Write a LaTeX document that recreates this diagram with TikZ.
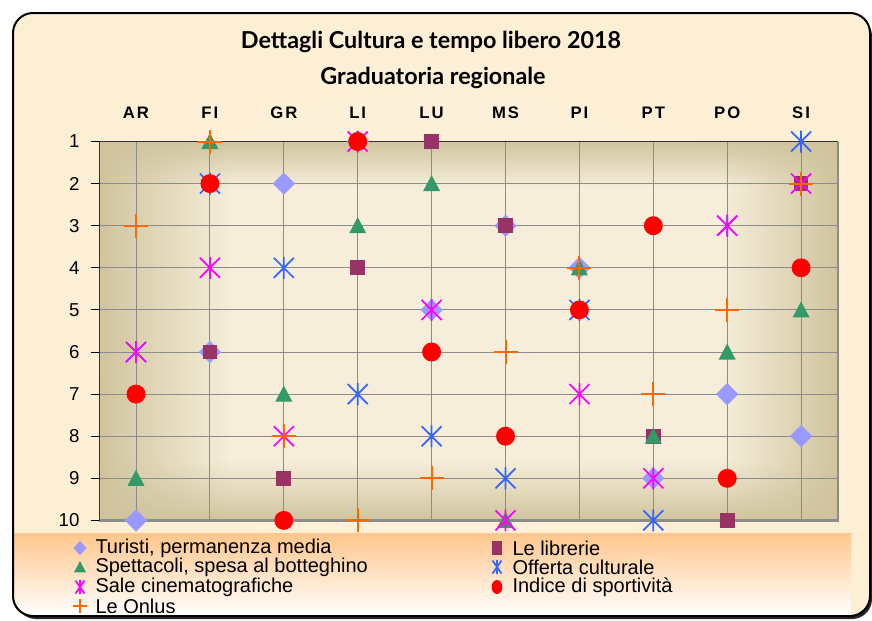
\documentclass[tikz,border=0pt]{standalone}
\usepackage{fontspec}
\setmainfont{Liberation Sans}
\newfontfamily\titlefont{Lato}
\usetikzlibrary{shapes.geometric,fadings}

\definecolor{turcol}{RGB}{153,153,255}
\definecolor{libcol}{RGB}{153,51,102}
\definecolor{spetcol}{RGB}{51,153,102}
\definecolor{offcol}{RGB}{51,102,255}
\definecolor{salecol}{RGB}{255,0,255}
\definecolor{sportcol}{RGB}{255,0,0}
\definecolor{onluscol}{RGB}{255,102,0}
\definecolor{bgcream}{RGB}{253,239,212}
\definecolor{bglight}{RGB}{251,242,225}
\definecolor{plottan}{RGB}{208,196,158}
\definecolor{plotlight}{RGB}{246,238,218}
\definecolor{legpeach}{RGB}{255,198,140}
\definecolor{gridgray}{RGB}{140,140,140}

% fadings for the plot background (visible part is 25bp..75bp)
\pgfdeclarehorizontalshading{sidemask}{100bp}{color(0bp)=(white); color(25bp)=(white); color(34bp)=(black); color(67bp)=(black); color(75bp)=(white); color(100bp)=(white)}
\pgfdeclarefading{sidefade}{\pgfuseshading{sidemask}}
\pgfdeclareverticalshading{endmask}{100bp}{color(0bp)=(white); color(25bp)=(white); color(33bp)=(black); color(69bp)=(black); color(75bp)=(white); color(100bp)=(white)}
\pgfdeclarefading{endfade}{\pgfuseshading{endmask}}

\tikzset{every picture/.style={line width=0.75pt}}
\tikzset{
	turmark/.style={diamond, fill=turcol, inner sep=0pt, minimum width=17pt, minimum height=17pt},
	libmark/.style={rectangle, fill=libcol, inner sep=0pt, minimum size=11pt},
	sportmark/.style={circle, fill=sportcol, inner sep=0pt, minimum size=14.2pt},
	spetmark/.pic={\fill[spetcol] (-8.5,-7.5) -- (8.5,-7.5) -- (0,8.5) -- cycle;},
	starmark/.pic={\draw[#1, line width=1.3pt] (-10,-10) -- (10,10) (-10,10) -- (10,-10) (0,-11) -- (0,11);},
	plusmark/.pic={\draw[onluscol, line width=1.5pt] (-12,0) -- (12,0) (0,-12) -- (0,12);},
	collab/.style={font=\bfseries\fontsize{12.5}{14}\selectfont\addfontfeature{LetterSpace=12}, inner sep=0pt},
	rowlab/.style={font=\fontsize{14}{16}\selectfont, inner sep=0pt, anchor=east},
	legtext/.style={font=\fontsize{15}{16}\selectfont, inner sep=0pt, anchor=west},
	titletext/.style={font=\titlefont\bfseries\fontsize{17.5}{20}\selectfont},
}

\begin{document}
\begin{tikzpicture}[x=0.75pt,y=0.75pt,yscale=-1,xscale=1]
	\useasboundingbox (0,0) rectangle (872,621);

	%Shape: Chart frame with shadow
	\fill[black!85, rounded corners=15pt] (16,16) rectangle (872,619);
	\shade[inner color=bglight, outer color=bgcream, rounded corners=15pt] (13,13) rectangle (870,616);
	\begin{scope}
		\clip[rounded corners=15pt] (13,13) rectangle (870,616);
		%Shape: Legend band
		\shade[top color=legpeach, bottom color=white] (13,533) rectangle (851,616);
	\end{scope}
	\draw[line width=1.5pt, rounded corners=15pt] (13,13) rectangle (870,616);

	% Text Node
	\node[titletext] (title) at (431,42) {Dettagli Cultura e tempo libero 2018};
	% Text Node
	\node[titletext] (subtitle) at (433,78) {Graduatoria regionale};

	%Shape: Plot area
	\fill[plotlight] (99,141.5) rectangle (838,520.5);
	\fill[plottan, path fading=sidefade, fit fading=true] (99,141.5) rectangle (838,520.5);
	\fill[plottan, path fading=endfade, fit fading=true] (99,141.5) rectangle (838,520.5);
	\foreach \r in {2,...,9}
		\draw[gridgray] (99,{141.5+42.1*(\r-1)}) -- (838,{141.5+42.1*(\r-1)});
	\foreach \c in {0,...,9}
		\draw[gridgray] ({136+73.9*\c},141.5) -- ({136+73.9*\c},520.5);
	\draw[gridgray, line width=1.6pt] (99,520.5) -- (838,520.5) -- (838,141.5);
	\draw[black!80] (99,520.5) -- (99,141.5) -- (838,141.5);

	% Axis labels
	\foreach \r in {1,...,10} {
		\draw[black] (91,{141.5+42.1*(\r-1)}) -- (99,{141.5+42.1*(\r-1)});
		\node[rowlab] (row\r) at (80,{141.5+42.1*(\r-1)}) {\r};
	}
	\foreach \c/\lab in {0/AR,1/FI,2/GR,3/LI,4/LU,5/MS,6/PI,7/PT,8/PO,9/SI}
		\node[collab] (col\c) at ({136+73.9*\c},113) {\lab};

	% Turisti, permanenza media
	\foreach \c/\r in {0/10,1/6,2/2,3/1,4/5,5/3,6/4,7/9,8/7,9/8}
		\node[turmark] (tur\c) at ({136+73.9*\c},{141.5+42.1*(\r-1)}) {};
	% Le librerie
	\foreach \c/\r in {0/7,1/6,2/9,3/4,4/1,5/3,6/5,7/8,8/10,9/2}
		\node[libmark] (lib\c) at ({136+73.9*\c},{141.5+42.1*(\r-1)}) {};
	% Spettacoli, spesa al botteghino
	\foreach \c/\r in {0/9,1/1,2/7,3/3,4/2,5/10,6/4,7/8,8/6,9/5}
		\pic (spet\c) at ({136+73.9*\c},{141.5+42.1*(\r-1)}) {spetmark};
	% Offerta culturale
	\foreach \c/\r in {0/6,1/2,2/4,3/7,4/8,5/9,6/5,7/10,8/3,9/1}
		\pic (off\c) at ({136+73.9*\c},{141.5+42.1*(\r-1)}) {starmark=offcol};
	% Sale cinematografiche
	\foreach \c/\r in {0/6,1/4,2/8,3/1,4/5,5/10,6/7,7/9,8/3,9/2}
		\pic (sale\c) at ({136+73.9*\c},{141.5+42.1*(\r-1)}) {starmark=salecol};
	% Indice di sportivita
	\foreach \c/\r in {0/7,1/2,2/10,3/1,4/6,5/8,6/5,7/3,8/9,9/4}
		\node[sportmark] (sport\c) at ({136+73.9*\c},{141.5+42.1*(\r-1)}) {};
	% Le Onlus
	\foreach \c/\r in {0/3,1/1,2/8,3/10,4/9,5/6,6/4,7/7,8/5,9/2}
		\pic (onlus\c) at ({136+73.9*\c},{141.5+42.1*(\r-1)}) {plusmark};

	% Legend
	\node[diamond, fill=turcol, inner sep=0pt, minimum width=10pt, minimum height=11pt] (legmk1) at (80,548) {};
	\node[legtext] (leg1) at (95,548) {Turisti, permanenza media};
	\node[rectangle, fill=libcol, inner sep=0pt, minimum width=7pt, minimum height=10pt] (legmk2) at (497,548) {};
	\node[legtext] (leg2) at (512,548) {Le librerie};
	\pic[scale=0.7] (legmk3) at (80,567) {spetmark};
	\node[legtext] (leg3) at (95,567) {Spettacoli, spesa al botteghino};
	\pic[xscale=0.45, yscale=0.65] (legmk4) at (497,567) {starmark=offcol};
	\node[legtext] (leg4) at (512,567) {Offerta culturale};
	\pic[xscale=0.45, yscale=0.65] (legmk5) at (80,587) {starmark=salecol};
	\node[legtext] (leg5) at (95,587) {Sale cinematografiche};
	\node[ellipse, fill=sportcol, inner sep=0pt, minimum width=8pt, minimum height=10.5pt] (legmk6) at (497,587) {};
	\node[legtext] (leg6) at (512,587) {Indice di sportività};
	\pic[scale=0.55] (legmk7) at (80,606) {plusmark};
	\node[legtext] (leg7) at (95,606) {Le Onlus};

\end{tikzpicture}
\end{document}
